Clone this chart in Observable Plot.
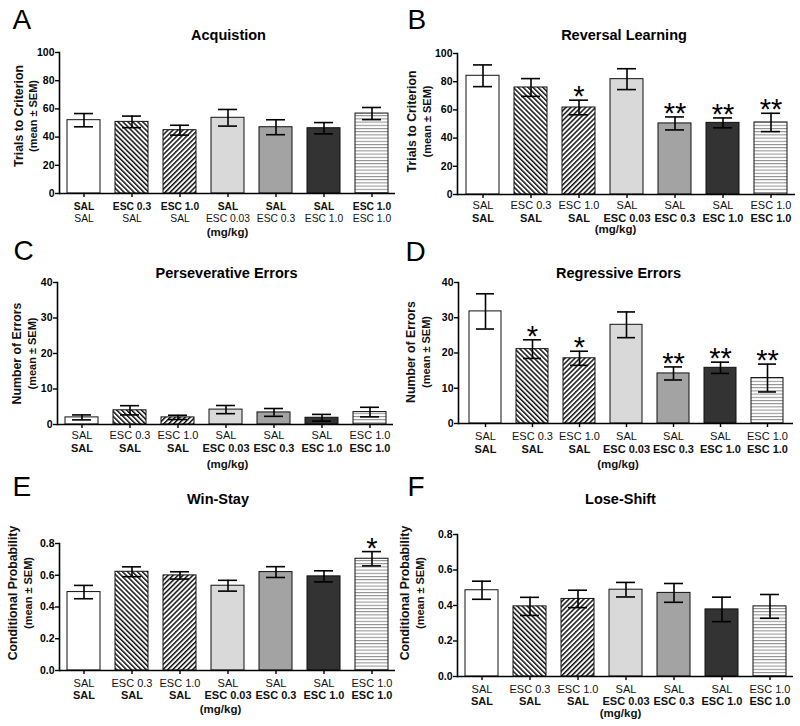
<!DOCTYPE html>
<html>
<head>
<meta charset="utf-8">
<script src="https://cdn.jsdelivr.net/npm/d3@7"></script>
<script src="https://cdn.jsdelivr.net/npm/@observablehq/plot@0.6"></script>
<style>
  body { margin: 0; background: #fff; }
  #fig { position: relative; width: 800px; height: 726px; overflow: hidden; background: #fff; }
  #fig svg.panel { position: absolute; }
</style>
</head>
<body>
<svg width="0" height="0" style="position:absolute">
  <defs>
    <pattern id="hatchBack" patternUnits="userSpaceOnUse" width="3.5" height="10" patternTransform="rotate(-45)">
      <rect width="3.5" height="10" fill="#ffffff"></rect>
      <rect width="1.5" height="10" fill="#111111"></rect>
    </pattern>
    <pattern id="hatchFwd" patternUnits="userSpaceOnUse" width="3.5" height="10" patternTransform="rotate(45)">
      <rect width="3.5" height="10" fill="#ffffff"></rect>
      <rect width="1.5" height="10" fill="#111111"></rect>
    </pattern>
    <pattern id="hStripe" patternUnits="userSpaceOnUse" width="10" height="3.2">
      <rect width="10" height="3.2" fill="#ffffff"></rect>
      <rect width="10" height="1" fill="#8a8a8a"></rect>
    </pattern>
  </defs>
</svg>
<div id="fig"></div>
<script>
// ---------- data ----------
const categories = ["SAL/SAL", "ESC 0.3/SAL", "ESC 1.0/SAL", "SAL/ESC 0.03", "SAL/ESC 0.3", "SAL/ESC 1.0", "ESC 1.0/ESC 1.0"];
const labelTop    = ["SAL", "ESC 0.3", "ESC 1.0", "SAL", "SAL", "SAL", "ESC 1.0"];
const labelBottom = ["SAL", "SAL", "SAL", "ESC 0.03", "ESC 0.3", "ESC 1.0", "ESC 1.0"];
const fills = ["#ffffff", "url(#hatchBack)", "url(#hatchFwd)", "#d9d9d9", "#a3a3a3", "#333333", "url(#hStripe)"];

const acqMean = [52.0, 50.8, 44.9, 53.7, 47.0, 46.3, 56.7];
const acqSem  = [4.7, 4.1, 3.5, 5.9, 5.3, 4.0, 4.3];

const revMean = [84.2, 75.9, 61.7, 81.8, 50.4, 50.8, 51.1];
const revSem  = [7.7, 6.3, 5.2, 7.4, 4.6, 3.5, 6.5];
const revStars = ["", "", "*", "", "**", "**", "**"];

const perMean = [2.0, 4.0, 2.0, 4.2, 3.4, 1.9, 3.5];
const perSem  = [0.7, 1.3, 0.6, 1.15, 1.1, 0.95, 1.35];

const regMean = [31.8, 21.1, 18.5, 28.0, 14.2, 15.8, 12.9];
const regSem  = [5.0, 2.65, 2.0, 3.65, 1.85, 1.6, 3.95];
const regStars = ["", "*", "*", "", "**", "**", "**"];

const winMean = [0.494, 0.622, 0.599, 0.534, 0.620, 0.593, 0.704];
const winSem  = [0.042, 0.031, 0.023, 0.034, 0.034, 0.035, 0.045];
const winStars = ["", "", "", "", "", "", "*"];

const loseMean = [0.486, 0.395, 0.437, 0.489, 0.471, 0.378, 0.395];
const loseSem  = [0.051, 0.051, 0.049, 0.041, 0.053, 0.069, 0.067];

const ticks100 = [0, 20, 40, 60, 80, 100];
const ticks40 = [0, 10, 20, 30, 40];
const ticksProb = [0, 0.2, 0.4, 0.6, 0.8];

// ---------- layout ----------
const FONT = '"Liberation Sans", Arial, Helvetica, sans-serif';
const panels = [
  {letter: "A", title: "Acquistion", ylab1: "Trials to Criterion", ylab2: "(mean \u00b1 SEM)",
   mean: acqMean, sem: acqSem, stars: null, domain: [0, 100], ticks: ticks100, fmt: d3.format("d"),
   left: 0, top: 0, w: 400, h: 240, mL: 59, mR: 5, mT: 52, mB: 47,
   boldFirst: true, fs: 10.3, l1: 16, l2: 28, mg: 42, mgdx: 0,
   ttdx: 1, ttdy: -13, ltdx: 12, ltdy: 28, yl1: 22, yl2: 36, yldy: -7},
  {letter: "B", title: "Reversal Learning", ylab1: "Trials to Criterion", ylab2: "(mean \u00b1 SEM)",
   mean: revMean, sem: revSem, stars: revStars, domain: [0, 100], ticks: ticks100, fmt: d3.format("d"),
   left: 400, top: 0, w: 400, h: 240, mL: 57, mR: 5, mT: 53, mB: 46,
   boldFirst: false, fs: 11, l1: 14.5, l2: 27, mg: 38, mgdx: -11,
   ttdx: -2.5, ttdy: -14, ltdx: 7, ltdy: 28, yl1: 15.5, yl2: 30.5, yldy: -2.5},
  {letter: "C", title: "Perseverative Errors", ylab1: "Number of Errors", ylab2: "(mean \u00b1 SEM)",
   mean: perMean, sem: perSem, stars: null, domain: [0, 40], ticks: ticks40, fmt: d3.format("d"),
   left: 0, top: 240, w: 400, h: 240, mL: 57, mR: 7, mT: 42, mB: 56,
   boldFirst: false, fs: 11, l1: 14.7, l2: 27, mg: 43.5, mgdx: 2,
   ttdx: 1, ttdy: -5, ltdx: 13, ltdy: 19, yl1: 20.5, yl2: 35, yldy: 0},
  {letter: "D", title: "Regressive Errors", ylab1: "Number of Errors", ylab2: "(mean \u00b1 SEM)",
   mean: regMean, sem: regSem, stars: regStars, domain: [0, 40], ticks: ticks40, fmt: d3.format("d"),
   left: 400, top: 240, w: 400, h: 240, mL: 58, mR: 7, mT: 42, mB: 57,
   boldFirst: false, fs: 11, l1: 16.5, l2: 29.5, mg: 44, mgdx: -8,
   ttdx: -7.5, ttdy: -5, ltdx: 5, ltdy: 20, yl1: 14, yl2: 29.5, yldy: -1},
  {letter: "E", title: "Win-Stay", ylab1: "Conditional Probability", ylab2: "(mean \u00b1 SEM)",
   mean: winMean, sem: winSem, stars: winStars, domain: [0, 0.8], ticks: ticksProb, fmt: d3.format(".1f"),
   left: 0, top: 480, w: 400, h: 246, mL: 59, mR: 5, mT: 63, mB: 56,
   boldFirst: false, fs: 11, l1: 16.5, l2: 28, mg: 42, mgdx: -7,
   ttdx: -9.5, ttdy: -40, ltdx: 12, ltdy: 15, yl1: 16.5, yl2: 31, yldy: -14},
  {letter: "F", title: "Lose-Shift", ylab1: "Conditional Probability", ylab2: "(mean \u00b1 SEM)",
   mean: loseMean, sem: loseSem, stars: null, domain: [0, 0.8], ticks: ticksProb, fmt: d3.format(".1f"),
   left: 400, top: 480, w: 400, h: 246, mL: 57, mR: 7, mT: 54, mB: 50,
   boldFirst: false, fs: 11, l1: 16, l2: 28.3, mg: 40.7, mgdx: -5,
   ttdx: -5, ttdy: -31, ltdx: 7, ltdy: 15, yl1: 8.5, yl2: 23.5, yldy: -12.5}
];

function buildPanel(p) {
  const data = categories.map((c, i) => ({
    cat: c, top: labelTop[i], bottom: labelBottom[i], fill: fills[i],
    mean: p.mean[i], lo: p.mean[i] - p.sem[i], hi: p.mean[i] + p.sem[i],
    star: p.stars ? p.stars[i] : ""
  }));
  const fw = p.boldFirst ? ["bold", "normal"] : ["normal", "bold"];
  const svg = Plot.plot({
    width: p.w, height: p.h,
    marginLeft: p.mL, marginRight: p.mR, marginTop: p.mT, marginBottom: p.mB,
    style: {fontFamily: FONT, background: "transparent", overflow: "visible", color: "#000"},
    x: {type: "band", domain: categories, paddingInner: 0.32, paddingOuter: 0.16},
    y: {domain: p.domain, nice: false},
    color: {type: "identity"},
    marks: [
      Plot.barY(data, {x: "cat", y: "mean", fill: "fill", stroke: "#111", strokeWidth: 1}),
      Plot.ruleX(data, {x: "cat", y1: "lo", y2: "hi", stroke: "#000", strokeWidth: 1.6}),
      Plot.tickY(data, {x: "cat", y: "hi", insetLeft: 7, insetRight: 7, stroke: "#000", strokeWidth: 1.6}),
      Plot.tickY(data, {x: "cat", y: "lo", insetLeft: 7, insetRight: 7, stroke: "#000", strokeWidth: 1.6}),
      Plot.text(data, {x: "cat", y: "hi", text: "star", dy: 6, lineAnchor: "bottom", fontSize: 29, fill: "#000"}),
      Plot.ruleY([0], {stroke: "#000", strokeWidth: 1.6}),
      Plot.frame({anchor: "left", stroke: "#000", strokeWidth: 1.6}),
      Plot.axisY({ticks: p.ticks, tickFormat: p.fmt, tickSize: 4, tickPadding: 1, label: null,
                  fontWeight: "bold", fontSize: 10.5, strokeWidth: 1.4}),
      Plot.axisX({tickSize: 4, tickFormat: () => "", label: null, strokeWidth: 1.4}),
      Plot.text(data, {x: "cat", text: "top", frameAnchor: "bottom", lineAnchor: "bottom", dy: p.l1,
                       fontWeight: fw[0], fontSize: p.fs, fill: "#111"}),
      Plot.text(data, {x: "cat", text: "bottom", frameAnchor: "bottom", lineAnchor: "bottom", dy: p.l2,
                       fontWeight: fw[1], fontSize: p.fs, fill: "#111"}),
      Plot.text(["(mg/kg)"], {text: d => d, frameAnchor: "bottom", lineAnchor: "bottom", dy: p.mg, dx: p.mgdx,
                       fontWeight: "bold", fontSize: 11.5, fill: "#111"}),
      Plot.text([p.title], {text: d => d, frameAnchor: "top", lineAnchor: "bottom", dy: p.ttdy, dx: p.ttdx,
                       fontWeight: "bold", fontSize: 14.5, fill: "#000"}),
      Plot.text([p.letter], {text: d => d, frameAnchor: "top-left", textAnchor: "start", lineAnchor: "bottom",
                       dx: p.ltdx - p.mL, dy: p.ltdy - p.mT, fontSize: 28, fill: "#000"}),
      Plot.text([p.ylab1], {text: d => d, frameAnchor: "left", rotate: -90, textAnchor: "middle", lineAnchor: "bottom",
                       dx: p.yl1 - p.mL, dy: p.yldy, fontWeight: "bold", fontSize: 12.3, fill: "#111"}),
      Plot.text([p.ylab2], {text: d => d, frameAnchor: "left", rotate: -90, textAnchor: "middle", lineAnchor: "bottom",
                       dx: p.yl2 - p.mL, dy: p.yldy, fontWeight: "bold", fontSize: 11, fill: "#111"})
    ]
  });
  svg.classList.add("panel");
  svg.style.left = p.left + "px";
  svg.style.top = p.top + "px";
  svg.style.maxWidth = "none";
  return svg;
}

const fig = document.getElementById("fig");
for (const p of panels) fig.appendChild(buildPanel(p));
</script>
</body>
</html>
